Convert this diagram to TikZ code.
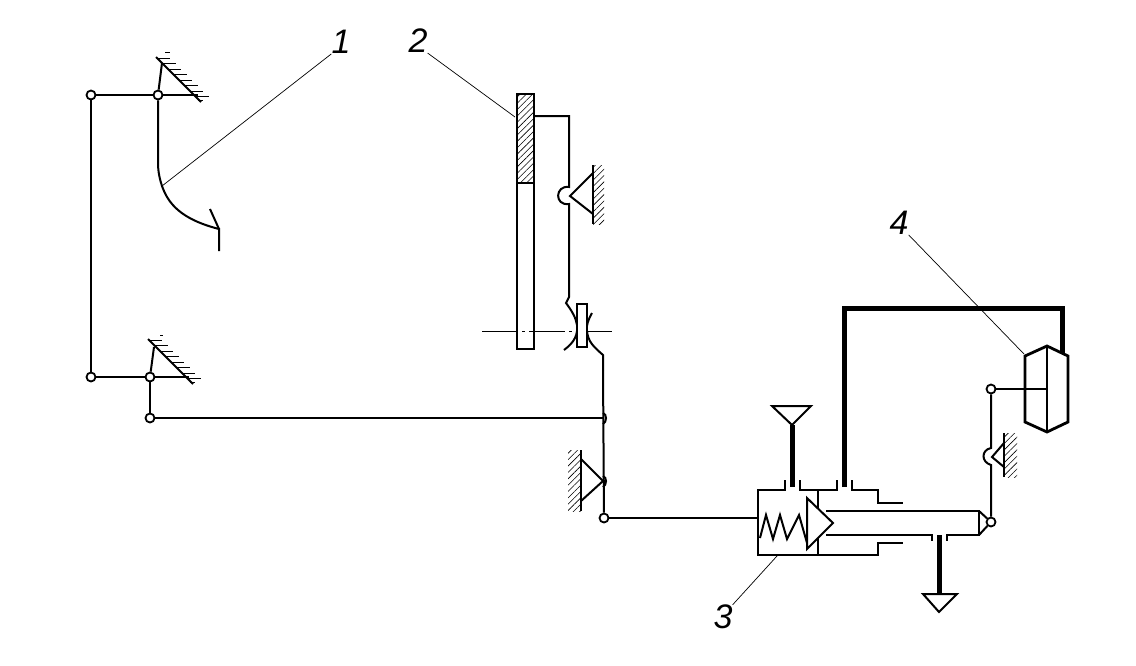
\documentclass[tikz,border=0pt]{standalone}
\usepackage{fontspec}
\setmainfont{Liberation Sans}
\usetikzlibrary{patterns.meta}
\tikzset{
    hinge/.style={circle,draw,fill=white,line width=1.8pt,inner sep=0pt,minimum size=9pt},
    link/.style={line width=2pt},
    pipe/.style={line width=5pt},
    thinline/.style={line width=.7pt},
    hatchline/.style={line width=1pt},
    hatched/.style={pattern={Lines[angle=45,distance=4.5pt,line width=.6pt]}},
    numlabel/.style={inner sep=0pt,font=\fontsize{34}{34}\selectfont\itshape}
}
\begin{document}
\begin{tikzpicture}[x=1pt,y=-1pt]
    \useasboundingbox (0,0) rectangle (1136,665);

    % labels
    \node[numlabel] (num1) at (341,42) {1};
    \node[numlabel] (num2) at (418,41) {2};
    \node[numlabel] (num3) at (723,617) {3};
    \node[numlabel] (num4) at (899,223) {4};

    % pedal
    \node[hinge] (hingeA) at (91,95) {};
    \node[hinge] (hingeB) at (158,95) {};
    \node[hinge] (hingeC) at (91,377) {};
    \node[hinge] (hingeD) at (150,377) {};
    \node[hinge] (hingeE) at (150,418) {};
    \coordinate (pedalbend) at (162,186);
    \coordinate (pedaltip) at (219,229);
    \draw[link] (hingeA) -- (hingeC);
    \draw[link] (hingeA) -- (hingeB) -- (198,95);
    \draw[link] (hingeC) -- (hingeD) -- (189,377);
    \draw[link] (hingeD) -- (hingeE);
    \draw[link] (hingeB) -- (158,163) .. controls (158,172) and (160,180) .. (pedalbend)
        .. controls (168,203) and (180,219) .. (pedaltip) -- (219,251);
    \draw[link] (210,209) -- (pedaltip);
    \draw[link] (hingeB) -- (162,63);
    \draw[link] (hingeD) -- (154,347);

    % slanted walls
    \draw[link] (156,57) -- (201,102);
    \draw[link] (148,339) -- (193,384);
    \foreach \y in {58,63.5,...,97}
        \draw[hatchline] ({\y+99},\y) -- ++(13,0);
    \draw[hatchline] (198,100.5) -- (203,100.5);
    \foreach \y in {340,345.5,...,379}
        \draw[hatchline] ({\y-191},\y) -- ++(13,0);
    \draw[hatchline] (190,382.5) -- (195,382.5);
    \draw[hatchline] (165,52) -- (170,52);
    \draw[hatchline] (160,335) -- (163,335);

    % disc
    \fill[hatched] (517,94) rectangle (534,183);
    \draw[link] (517,94) rectangle (534,349);
    \draw[link] (517,183) -- (534,183);
    \draw[thinline,dash pattern=on 36pt off 4pt on 3pt off 4pt] (482,331) -- (612,331);

    % upper lever
    \coordinate (leverA) at (569,116);
    \coordinate (leverB) at (603,370);
    \draw[link] (534,116) -- (leverA) -- (569,187) .. controls (555,185) and (554,206) .. (569,204)
        -- (569,297) -- (566,303) .. controls (572,311) and (576,318) .. (577,325)
        .. controls (578,334) and (575,342) .. (564,350);
    \draw[link] (592,313) .. controls (588,320) and (586,326) .. (587,331)
        .. controls (588,342) and (594,347) .. (603,355) -- (leverB);
    \draw[link,fill=white] (577,304) rectangle (586.5,347);

    % supports
    \fill[hatched] (593,165) rectangle (604,224);
    \draw[link] (593,165) -- (593,224);
    \draw[link] (593,173) -- (570,196) -- (593,214);
    \fill[hatched] (568,450) rectangle (581,511);
    \draw[link] (581,450) -- (581,511);
    \draw[link] (581,459) -- (603,481) -- (581,501);
    \fill[hatched] (1004,433) rectangle (1017,477);
    \draw[link] (1004,433) -- (1004,477);
    \draw[link] (1004,443) -- (992,457) -- (1004,467);

    % rods to the valve
    \node[hinge] (hingeF) at (604,518) {};
    \draw[link] (hingeE) -- (603,418);
    \draw[link] (leverB) -- (hingeF);
    \draw[link] (603,413) .. controls (607,414) and (607,422) .. (603,424);
    \draw[link] (603,476) .. controls (607,477) and (607,485) .. (603,487);
    \draw[link] (hingeF) -- (758,518);

    % valve body
    \draw[link] (785,480) -- (785,490) -- (758,490) -- (758,555) -- (878,555) -- (878,543) -- (903,543);
    \draw[link] (800,480) -- (800,490) -- (837,490) -- (837,480);
    \draw[link] (852,480) -- (852,490) -- (878,490) -- (878,503) -- (903,503);
    \draw[link] (818,490) -- (818,555);
    \draw[link] (760,538) -- (766,515) -- (773,539) -- (780,515) -- (787,539) -- (799,515) -- (807,543);
    \draw[link,fill=white] (807,498) -- (833,523) -- (807,549) -- cycle;
    \draw[link] (826,511) -- (979,511) -- (979,535) -- (947,535) -- (947,541);
    \draw[link] (826,535) -- (932,535) -- (932,541);

    % pipes
    \coordinate (topfunnel) at (792,425);
    \coordinate (lowfunnel) at (939,594);
    \draw[link] (772,406) -- (811,406) -- (topfunnel) -- cycle;
    \draw[link] (923,594) -- (957,594) -- (939,612) -- cycle;
    \draw[pipe] (topfunnel) -- (792,487);
    \draw[pipe] (939,535) -- (lowfunnel);
    \draw[pipe] (844,487) -- (844,308) -- (1062,308) -- (1062,353);

    % brake chamber
    \coordinate (chamberT) at (1047,346);
    \coordinate (chamberB) at (1047,432);
    \node[hinge] (hingeG) at (991,522) {};
    \node[hinge] (hingeH) at (991,389) {};
    \draw[link] (979,511) -- (hingeG) -- (979,535);
    \draw[link] (hingeG) -- (991,465) .. controls (981,462) and (981,450) .. (991,448) -- (hingeH);
    \draw[line width=2.8pt,fill=white] (chamberT) -- (1068,356) -- (1068,422) -- (chamberB)
        -- (1025,422) -- (1025,356) -- cycle;
    \draw[line width=2.8pt] (chamberT) -- (chamberB);
    \draw[link] (hingeH) -- (1047,389);

    % leaders
    \draw[thinline] (num1.south west) -- (pedalbend);
    \draw[thinline] (num2.south east) -- (515,117);
    \draw[thinline] (num3.north east) -- (777,556);
    \draw[thinline] (num4.south east) -- (1024,354);
\end{tikzpicture}
\end{document}
